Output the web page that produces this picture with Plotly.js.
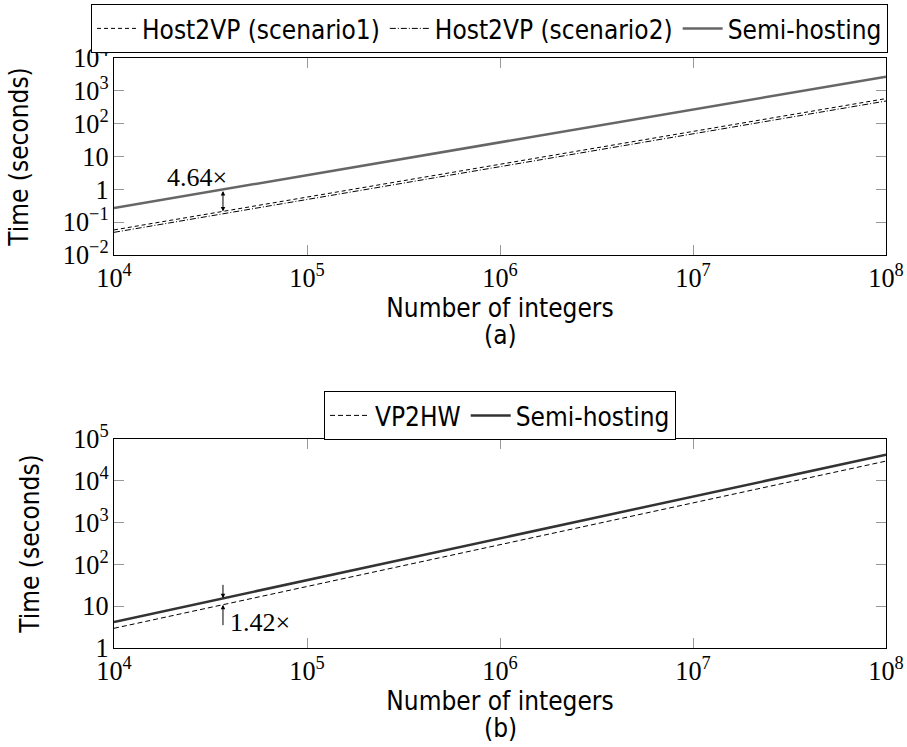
<!DOCTYPE html>
<html>
<head>
<meta charset="utf-8">
<script src="https://cdn.plot.ly/plotly-3.0.1.min.js"></script>
<style>html,body{margin:0;padding:0;background:#fff;}#chart{width:907px;height:747px;}</style>
</head>
<body>
<div id="chart"></div>
<script>
// ---- data ----
const nIntegers = [1e4, 1e5, 1e6, 1e7, 1e8];
// (a)
const host2vpScenario1 = [0.058, 0.58, 5.8, 58, 580];
const host2vpScenario2 = [0.049, 0.49, 4.9, 49, 490];
const semiHostingA = [0.27, 2.7, 27, 270, 2700];
// (b)
const vp2hw = [2.96, 29.6, 296, 2960, 29600];
const semiHostingB = [4.2, 42, 420, 4200, 42000];
const ratioA = "4.64×";
const ratioB = "1.42×";
const ratioAtN = 3.67e4;

function logInterp(xs, ys, x) {
  const lx = Math.log10(x);
  for (let i = 0; i < xs.length - 1; i++) {
    const a = Math.log10(xs[i]), b = Math.log10(xs[i + 1]);
    if (lx >= a && lx <= b) {
      const t = (lx - a) / (b - a);
      return Math.log10(ys[i]) + t * (Math.log10(ys[i + 1]) - Math.log10(ys[i]));
    }
  }
  return Math.log10(ys[ys.length - 1]);
}

const SANS = "DejaVu Sans Condensed, DejaVu Sans";
const SERIF = "Liberation Serif";
const FS = 26;
const W = 907, H = 747;
const MT = 50, ML = 114, MR = 21, MB = 0;
const PH = H - MT - MB, PW = W - ML - MR;
const py = (pix) => (H - MB - pix) / PH;   // pixel row -> paper fraction
const px = (pix) => (pix - ML) / PW;       // pixel column -> paper fraction

const traces = [
  {x: nIntegers, y: host2vpScenario1, name: "Host2VP (scenario1)", mode: "lines", xaxis: "x", yaxis: "y",
   line: {color: "#000", width: 1, dash: "4px,3px"}, legend: "legend"},
  {x: nIntegers, y: host2vpScenario2, name: "Host2VP (scenario2)", mode: "lines", xaxis: "x", yaxis: "y",
   line: {color: "#000", width: 1, dash: "6px,2px,1px,2px"}, legend: "legend"},
  {x: nIntegers, y: semiHostingA, name: "Semi-hosting", mode: "lines", xaxis: "x", yaxis: "y",
   line: {color: "#666", width: 2.5}, legend: "legend"},
  {x: nIntegers, y: vp2hw, name: "VP2HW", mode: "lines", xaxis: "x2", yaxis: "y2",
   line: {color: "#000", width: 1, dash: "5px,3px"}, legend: "legend2"},
  {x: nIntegers, y: semiHostingB, name: "Semi-hosting", mode: "lines", xaxis: "x2", yaxis: "y2",
   line: {color: "#333", width: 2.5}, legend: "legend2"}
];

function axisBase() {
  return {
    type: "log", showgrid: false, zeroline: false,
    showline: true, linecolor: "#000", linewidth: 1.2, mirror: "ticks",
    ticks: "inside", ticklen: 10, tickcolor: "#999", tickwidth: 1,
    exponentformat: "power", dtick: 1,
    tickfont: {family: SERIF, size: 21, color: "#000"}
  };
}

const xa = Object.assign(axisBase(), {range: [4, 8], anchor: "y",
  title: {text: "Number of integers", font: {family: SANS, size: FS, color: "#000"}, standoff: 1}});
const ya = Object.assign(axisBase(), {range: [-2, 4], anchor: "x", domain: [py(255), py(58)],
  title: {text: "Time (seconds)", font: {family: SANS, size: FS, color: "#000"}, standoff: 26}});
const xb = Object.assign(axisBase(), {range: [4, 8], anchor: "y2",
  title: {text: "Number of integers", font: {family: SANS, size: FS, color: "#000"}, standoff: 1}});
const yb = Object.assign(axisBase(), {range: [0, 5], anchor: "x2", domain: [py(648), py(439)],
  title: {text: "Time (seconds)", font: {family: SANS, size: FS, color: "#000"}, standoff: 26}});

const lxA = Math.log10(ratioAtN);
const ySemiA = logInterp(nIntegers, semiHostingA, ratioAtN);
const yHostA = logInterp(nIntegers, host2vpScenario1, ratioAtN);
const ySemiB = logInterp(nIntegers, semiHostingB, ratioAtN);
const yVpB = logInterp(nIntegers, vp2hw, ratioAtN);

const annotations = [
  {xref: "x", yref: "y", x: lxA, y: yHostA, axref: "x", ayref: "y", ax: lxA, ay: ySemiA,
   showarrow: true, arrowhead: 2, arrowside: "end+start", arrowsize: 0.9, arrowwidth: 1, arrowcolor: "#000", text: ""},
  {xref: "x", yref: "y", x: lxA, y: ySemiA, text: ratioA, showarrow: false,
   xanchor: "center", yanchor: "middle", xshift: -26, yshift: 12,
   font: {family: SERIF, size: 26, color: "#000"}},
  {xref: "x2", yref: "y2", x: lxA, y: ySemiB, ax: 0, ay: -15, showarrow: true, arrowhead: 2,
   arrowsize: 0.9, arrowwidth: 1, arrowcolor: "#000", text: ""},
  {xref: "x2", yref: "y2", x: lxA, y: yVpB, ax: 0, ay: 22, showarrow: true, arrowhead: 2,
   arrowsize: 0.9, arrowwidth: 1, arrowcolor: "#000", text: ""},
  {xref: "x2", yref: "y2", x: lxA, y: yVpB, text: ratioB, showarrow: false,
   xanchor: "left", yanchor: "middle", xshift: 5, yshift: -18,
   font: {family: SERIF, size: 26, color: "#000"}},
  {xref: "paper", yref: "paper", x: 0.5, y: py(335), text: "(a)", showarrow: false,
   xanchor: "center", yanchor: "middle", font: {family: SANS, size: FS, color: "#000"}},
  {xref: "paper", yref: "paper", x: 0.5, y: py(728), text: "(b)", showarrow: false,
   xanchor: "center", yanchor: "middle", font: {family: SANS, size: FS, color: "#000"}}
];

const layout = {
  width: W, height: H,
  margin: {l: ML, r: MR, t: MT, b: MB, autoexpand: false},
  paper_bgcolor: "#fff", plot_bgcolor: "#fff",
  showlegend: true,
  xaxis: xa, yaxis: ya, xaxis2: xb, yaxis2: yb,
  legend: {orientation: "h", x: px(91), xanchor: "left", y: py(4), yanchor: "top",
    bordercolor: "#000", borderwidth: 1, bgcolor: "#fff",
    font: {family: SANS, size: FS, color: "#000"}, itemwidth: 40},
  legend2: {orientation: "h", x: px(500), xanchor: "center", y: py(391), yanchor: "top",
    bordercolor: "#000", borderwidth: 1, bgcolor: "#fff",
    font: {family: SANS, size: FS, color: "#000"}, itemwidth: 40},
  annotations: annotations
};

Plotly.newPlot("chart", traces, layout, {displayModeBar: false, staticPlot: true});
</script>
</body>
</html>
